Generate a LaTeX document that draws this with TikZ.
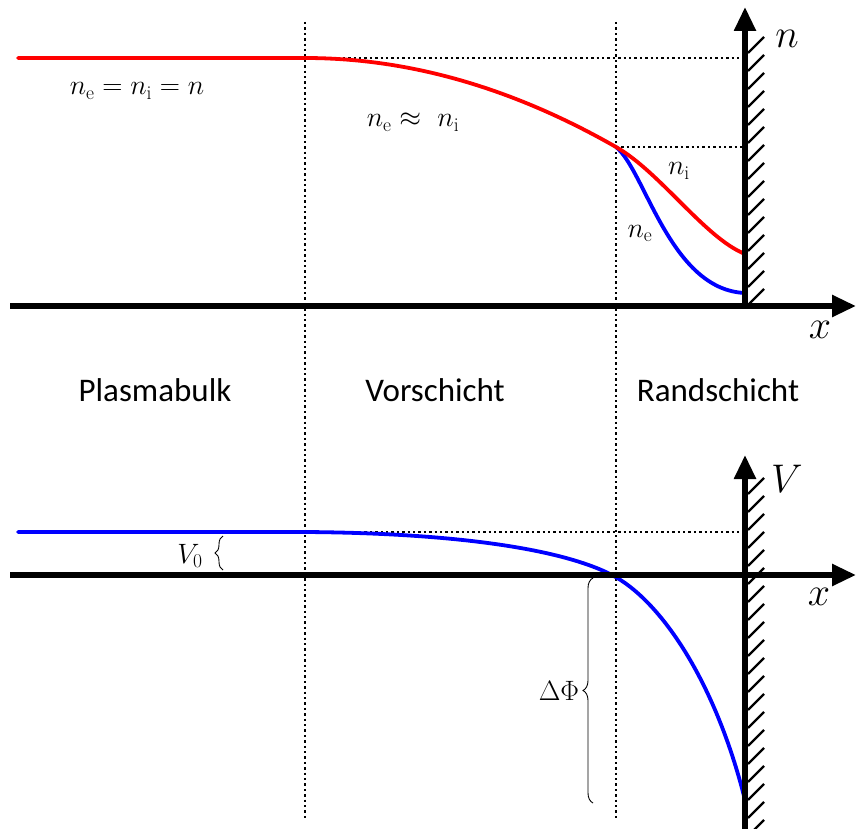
\RequirePackage{fix-cm}
\documentclass[tikz,border=0pt]{standalone}
\usepackage{fontspec}
\setsansfont{Carlito}
\usetikzlibrary{arrows.meta,decorations.pathreplacing}
\tikzset{
  axis/.style={line width=5.5pt,-{Triangle[length=24pt,width=21pt]}},
  wall/.style={line width=5.5pt},
  hatchline/.style={line width=2.2pt},
  guide/.style={line width=2.2pt,dash pattern=on 2.4pt off 3pt},
  ncurve/.style={line width=3.8pt,line cap=round},
  bracestyle/.style={line width=0.9pt,decorate,decoration={brace,amplitude=8pt}},
  mlabel/.style={anchor=base,inner sep=0pt,font=\fontsize{28}{30}\selectfont},
  axlabel/.style={anchor=base,inner sep=0pt,font=\fontsize{40}{42}\selectfont},
  region/.style={anchor=base,inner sep=0pt,font=\sffamily\fontsize{33}{35}\selectfont},
}
\definecolor{nred}{RGB}{255,0,0}
\definecolor{nblue}{RGB}{0,0,255}
\begin{document}
\begin{tikzpicture}[x=1pt,y=-1pt]
\useasboundingbox (0,0) rectangle (856,829);
% coordinates
\coordinate (gA1) at (305,22); \coordinate (gA2) at (305,820);
\coordinate (gB1) at (616,22); \coordinate (gB2) at (616,820);
\coordinate (hT1) at (305,58);  \coordinate (hT2) at (745,58);
\coordinate (hM1) at (616,147); \coordinate (hM2) at (745,147);
\coordinate (hV1) at (305,532); \coordinate (hV2) at (745,532);
% dotted guides
\draw[guide] (gA1) -- (gA2);
\draw[guide] (gB1) -- (gB2);
\draw[guide] (hT1) -- (hT2);
\draw[guide] (hM1) -- (hM2);
\draw[guide] (hV1) -- (hV2);
% top curves
\coordinate (rS) at (18,58);
\coordinate (rK) at (305,58);
\coordinate (rM) at (616,147);
\coordinate (rE) at (745,254);
\coordinate (bE) at (745,293);
\draw[ncurve,nblue] (rM) .. controls (645,170) and (670,290) .. (bE);
\draw[ncurve,nred] (rS) -- (rK) .. controls (408.7,58) and (512.3,87.7) .. (rM)
   .. controls (660,172) and (705,238) .. (rE);
% bottom curve
\coordinate (vS) at (18,532);
\coordinate (vK) at (305,532);
\coordinate (vC) at (612,575);
\coordinate (vE) at (745,800);
\draw[ncurve,nblue] (vS) -- (vK) .. controls (450,533) and (560,548) .. (vC)
   .. controls (660,600) and (715,680) .. (vE);
% top axes
\coordinate (tx0) at (10,306); \coordinate (tx1) at (856,306);
\coordinate (ty0) at (745,306); \coordinate (ty1) at (745,7);
\draw[axis] (tx0) -- (tx1);
\draw[axis] (ty0) -- (ty1);
\foreach \y in {305,287,...,40} \draw[hatchline] (748,\y) -- (764,\y-16);
% bottom axes
\coordinate (bx0) at (10,575); \coordinate (bx1) at (856,575);
\coordinate (by0) at (745,829); \coordinate (by1) at (745,455);
\draw[axis] (bx0) -- (bx1);
\draw[axis] (by0) -- (by1);
\foreach \y in {836,818,...,490} \draw[hatchline] (748,\y) -- (764,\y-16);
% braces
\coordinate (v0a) at (223,570); \coordinate (v0b) at (223,536);
\draw[bracestyle] (v0a) -- (v0b);
\coordinate (dpa) at (593,803); \coordinate (dpb) at (593,578);
\draw[bracestyle,decoration={brace,amplitude=10pt}] (dpa) -- (dpb);
% labels
\node[mlabel] (l1) at (137,95) {$n_\mathrm{e}=n_\mathrm{i}=n$};
\node[mlabel] (l2) at (413,127) {$n_\mathrm{e}\approx\ n_\mathrm{i}$};
\node[mlabel] (l3) at (679,175) {$n_\mathrm{i}$};
\node[mlabel] (l4) at (640,237) {$n_\mathrm{e}$};
\node[axlabel] (ln) at (787,48) {$n$};
\node[axlabel] (lx1) at (820,338) {$x$};
\node[axlabel] (lV) at (787,492) {$V$};
\node[axlabel] (lx2) at (819,605) {$x$};
\node[mlabel] (lv0) at (190,563) {$V_0$};
\node[mlabel] (ldp) at (559,700) {$\Delta\Phi$};
\node[region] (r1) at (155,401) {Plasmabulk};
\node[region] (r2) at (435,401) {Vorschicht};
\node[region] (r3) at (718,401) {Randschicht};
\end{tikzpicture}
\end{document}
